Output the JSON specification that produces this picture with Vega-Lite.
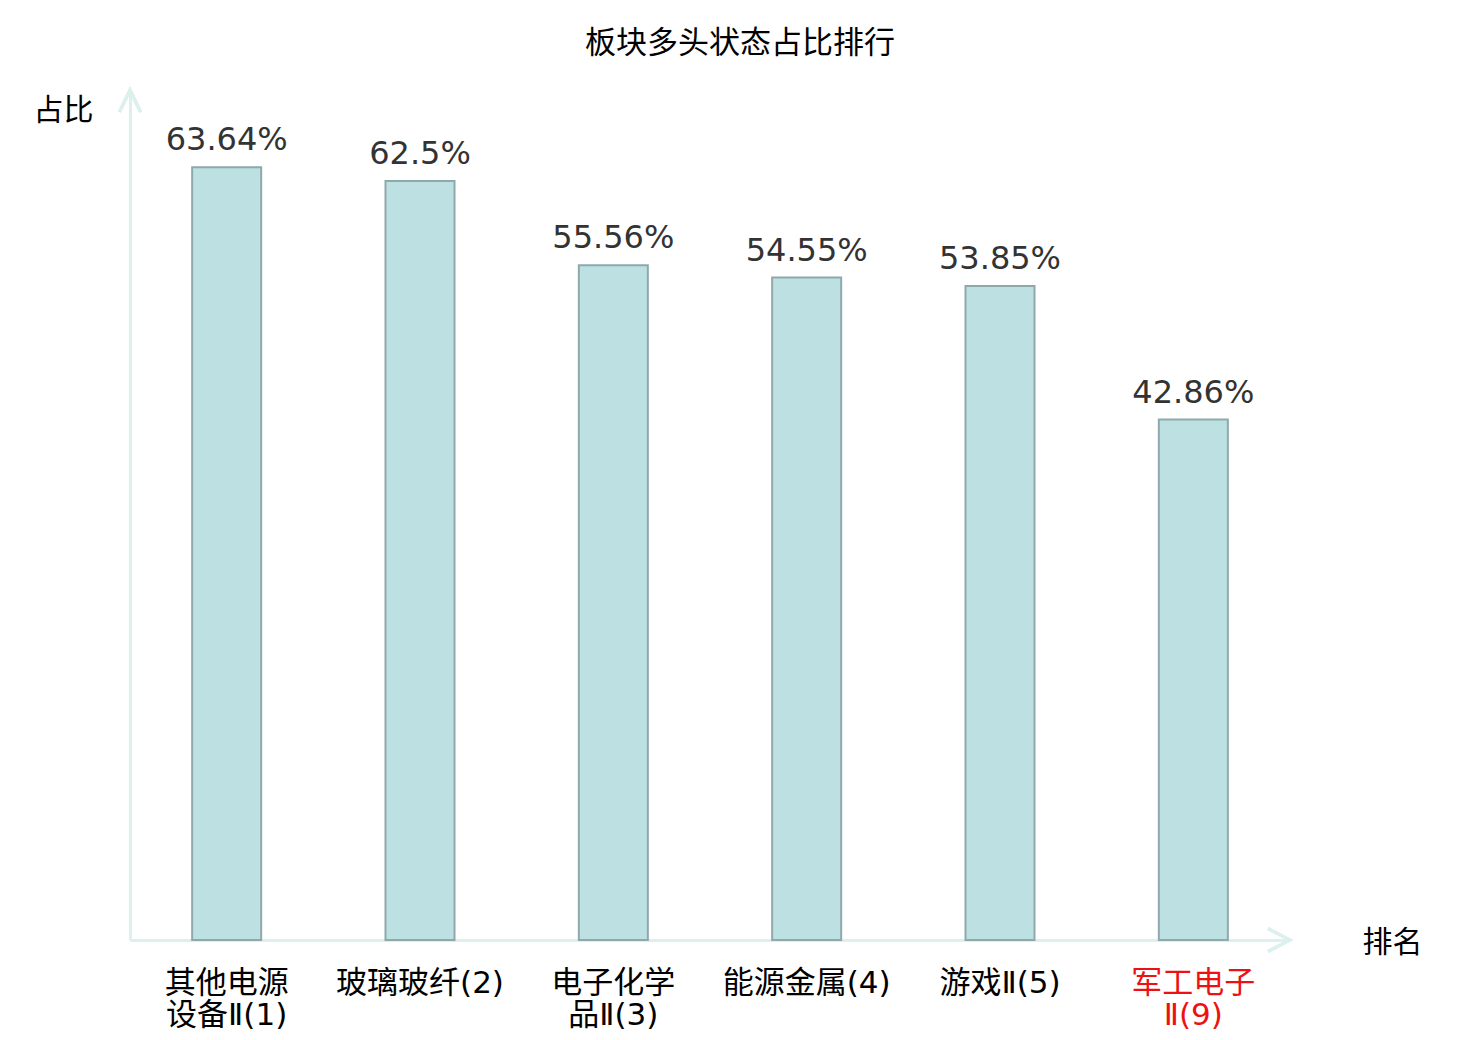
{
  "$schema": "https://vega.github.io/schema/vega-lite/v6.json",
  "width": 1160,
  "height": 850,
  "autosize": "none",
  "padding": {"left": 130, "top": 90, "right": 190, "bottom": 100},
  "background": "white",
  "title": {
    "text": "板块多头状态占比排行",
    "font": "Noto Sans CJK SC",
    "fontSize": 31,
    "fontWeight": "normal",
    "color": "black",
    "anchor": "middle",
    "dx": 30,
    "offset": 24
  },
  "data": {
    "values": [
      {"sector": "其他电源|设备Ⅱ(1)", "share": 0.6364},
      {"sector": "玻璃玻纤(2)", "share": 0.625},
      {"sector": "电子化学|品Ⅱ(3)", "share": 0.5556},
      {"sector": "能源金属(4)", "share": 0.5455},
      {"sector": "游戏Ⅱ(5)", "share": 0.5385},
      {"sector": "军工电子|Ⅱ(9)", "share": 0.4286}
    ]
  },
  "config": {"view": {"stroke": null}},
  "layer": [
    {
      "mark": {"type": "bar", "width": {"band": 0.357}, "fill": "#bde0e3", "stroke": "#8fa9ab", "strokeWidth": 2},
      "encoding": {
        "x": {
          "field": "sector",
          "type": "nominal",
          "sort": null,
          "scale": {"paddingInner": 0, "paddingOuter": 0},
          "axis": {
            "title": "排名",
            "titleFont": "Noto Sans CJK SC",
            "titleFontSize": 30,
            "titleFontWeight": "normal",
            "titleColor": "black",
            "titleAngle": 0,
            "titleX": 1262,
            "titleY": 2,
            "titleAlign": "center",
            "titleBaseline": "middle",
            "labelAngle": 0,
            "labelFont": "'DejaVu Sans', 'Noto Sans CJK SC'",
            "labelFontWeight": 399,
            "labelFontSize": 31,
            "labelLineHeight": 32,
            "labelPadding": 28,
            "labelLimit": 0,
            "labelExpr": "split(datum.label, '|')",
            "labelColor": {"condition": {"test": "indexof(datum.value, '军工') >= 0", "value": "#ee1111"}, "value": "black"},
            "ticks": false,
            "grid": false,
            "domainColor": "#dcf0ee",
            "domainWidth": 3
          }
        },
        "y": {
          "field": "share",
          "type": "quantitative",
          "scale": {"domain": [0, 0.7], "nice": false},
          "axis": {
            "title": "占比",
            "titleFont": "Noto Sans CJK SC",
            "titleFontSize": 30,
            "titleFontWeight": "normal",
            "titleColor": "black",
            "titleAngle": 0,
            "titleX": -67,
            "titleY": 20,
            "titleAlign": "center",
            "titleBaseline": "middle",
            "labels": false,
            "ticks": false,
            "grid": false,
            "domainColor": "#dcf0ee",
            "domainWidth": 3
          }
        }
      }
    },
    {
      "mark": {"type": "text", "font": "DejaVu Sans", "fontSize": 32, "color": "#333333", "baseline": "alphabetic", "dy": -17},
      "encoding": {
        "x": {"field": "sector", "type": "nominal", "sort": null},
        "y": {"field": "share", "type": "quantitative"},
        "text": {"field": "share", "type": "quantitative", "format": ".2~%"}
      }
    },
    {
      "mark": {"type": "point", "shape": "M -1 -0.52 L 0 0 L -1 0.52", "size": 1936, "filled": false, "stroke": "#dcf0ee", "strokeWidth": 3, "opacity": 1},
      "encoding": {
        "x": {"value": "width"},
        "y": {"datum": 0}
      }
    },
    {
      "mark": {"type": "point", "shape": "M -0.48 1 L 0 0 L 0.48 1", "size": 1936, "filled": false, "stroke": "#dcf0ee", "strokeWidth": 3, "opacity": 1},
      "encoding": {
        "x": {"value": 0},
        "y": {"datum": 0.7}
      }
    }
  ]
}
